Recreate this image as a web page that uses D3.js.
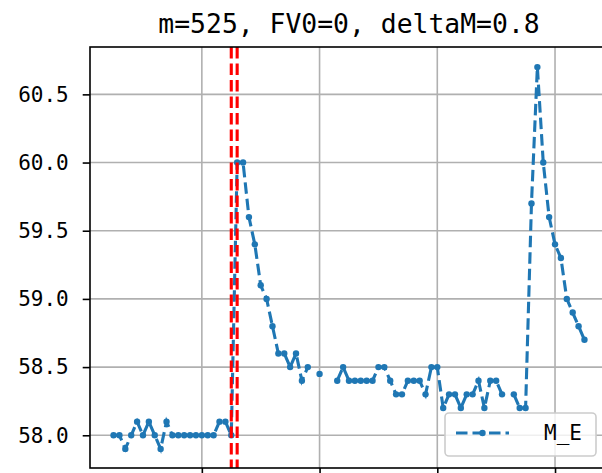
<!DOCTYPE html>
<html><head><meta charset="utf-8">
<script src="https://cdn.jsdelivr.net/npm/d3@7/dist/d3.min.js"></script>
<style>body{margin:0;background:#fff;} svg{display:block;}</style>
</head><body>
<svg id="chart" width="602" height="473"></svg>
<script>
// ---- data ----
const titleText = "m=525, FV0=0, deltaM=0.8";
const seriesName = "M_E";
const xValues = [0,1,2,3,4,5,6,7,8,9,10,11,12,13,14,15,16,17,18,19,20,21,
  22,23,24,25,26,27,28,29,30,31,32,33,34,35,36,37,38,39,40,41,42,43,44,45,46,47,48,49,
  50,51,52,53,54,55,56,57,58,59,60,61,62,63,64,65,66,67,68,69,70,71,72,73,74,75,76,77,78,79,80];
const meValues = [58.0,58.0,57.9,58.0,58.1,58.0,58.1,58.0,57.9,58.1,58.0,58.0,58.0,58.0,58.0,58.0,58.0,58.0,58.1,58.1,58.0,60.0,
  60.0,59.6,59.4,59.1,59.0,58.8,58.6,58.6,58.5,58.6,58.4,58.5,null,58.45,null,null,58.4,58.5,58.4,58.4,58.4,58.4,58.4,58.5,58.5,58.4,58.3,58.3,
  58.4,58.4,58.4,58.3,58.5,58.5,58.2,58.3,58.3,58.2,58.3,58.3,58.4,58.2,58.4,58.4,58.3,null,58.3,58.2,58.2,59.7,60.7,60.0,59.6,59.4,59.3,59.0,58.9,58.8,58.7];
const yTicks = [58.0, 58.5, 59.0, 59.5, 60.0, 60.5];
const xTicks = [15, 35, 55, 75];
const eventLines = [20, 21];

// ---- layout ----
const svg = d3.select("#chart");
const M = {left: 90, right: 608, top: 47, bottom: 468};
const blue = "#1f77b4";
const monoFont = "'DejaVu Sans Mono', 'Liberation Mono', monospace";

const xMin = d3.min(xValues), xMax = d3.max(xValues);
const xPad = (xMax - xMin) * 0.05;
const yExt = d3.extent(meValues.filter(v => v != null));
const yPad = (yExt[1] - yExt[0]) * 0.05;

const x = d3.scaleLinear().domain([xMin - xPad, xMax + xPad]).range([M.left, M.right]);
const y = d3.scaleLinear().domain([yExt[0] - yPad, yExt[1] + yPad]).range([M.bottom, M.top + 1]);

const data = xValues.map((xv, i) => ({x: xv, v: meValues[i]}));

// grid
const grid = svg.append("g");
grid.selectAll("line.gx").data(xTicks).join("line").attr("class", "gx")
  .attr("x1", d => x(d)).attr("x2", d => x(d)).attr("y1", M.top).attr("y2", M.bottom)
  .attr("stroke", "#b0b0b0").attr("stroke-width", 1.6);
grid.selectAll("line.gy").data(yTicks).join("line").attr("class", "gy")
  .attr("x1", M.left).attr("x2", M.right).attr("y1", d => y(d)).attr("y2", d => y(d))
  .attr("stroke", "#b0b0b0").attr("stroke-width", 1.6);

// series
const line = d3.line().defined(d => d.v != null).x(d => x(d.x)).y(d => y(d.v));
svg.append("path").datum(data).attr("d", line)
  .attr("fill", "none").attr("stroke", blue).attr("stroke-width", 3.1)
  .attr("stroke-dasharray", "11.5,5");
svg.append("g").selectAll("circle").data(data.filter(d => d.v != null)).join("circle")
  .attr("cx", d => x(d.x)).attr("cy", d => y(d.v)).attr("r", 3.2).attr("fill", blue);

// event lines
svg.append("g").selectAll("line").data(eventLines).join("line")
  .attr("x1", d => x(d)).attr("x2", d => x(d)).attr("y1", M.top).attr("y2", M.bottom)
  .attr("stroke", "#ff0000").attr("stroke-width", 3.1).attr("stroke-dasharray", "11.5,5");

// axes
const yAxis = d3.axisLeft(y).tickValues(yTicks).tickFormat(d3.format(".1f")).tickSize(7.3).tickPadding(14);
const gy = svg.append("g").attr("transform", `translate(${M.left},0)`).call(yAxis);
gy.select(".domain").remove();
gy.selectAll(".tick line").attr("stroke", "#000").attr("stroke-width", 1.6);
gy.selectAll(".tick text").attr("font-family", monoFont).attr("font-size", 21).attr("fill", "#000");

const xAxis = d3.axisBottom(x).tickValues(xTicks).tickFormat("").tickSize(7.3);
const gx = svg.append("g").attr("transform", `translate(0,${M.bottom})`).call(xAxis);
gx.select(".domain").remove();
gx.selectAll(".tick line").attr("stroke", "#000").attr("stroke-width", 1.6);

// spines
svg.append("rect").attr("x", M.left).attr("y", M.top).attr("width", M.right - M.left).attr("height", M.bottom - M.top)
  .attr("fill", "none").attr("stroke", "#000").attr("stroke-width", 1.6);

// title
svg.append("text").attr("x", (M.left + M.right) / 2).attr("y", 33).attr("text-anchor", "middle")
  .attr("font-family", monoFont).attr("font-size", 26.4).attr("fill", "#000").text(titleText);

// legend
const lg = svg.append("g");
lg.append("rect").attr("x", 445).attr("y", 413).attr("width", 151).attr("height", 43).attr("rx", 4)
  .attr("fill", "#fff").attr("fill-opacity", 0.8).attr("stroke", "#cccccc").attr("stroke-width", 1.6);
lg.append("line").attr("x1", 456).attr("x2", 509).attr("y1", 433).attr("y2", 433)
  .attr("stroke", blue).attr("stroke-width", 3.1).attr("stroke-dasharray", "11.5,5");
lg.append("circle").attr("cx", 482.5).attr("cy", 433).attr("r", 3.2).attr("fill", blue);
lg.append("text").attr("x", 544).attr("y", 433).attr("dy", "0.35em")
  .attr("font-family", monoFont).attr("font-size", 21).attr("fill", "#000").text(seriesName);
</script>
</body></html>
